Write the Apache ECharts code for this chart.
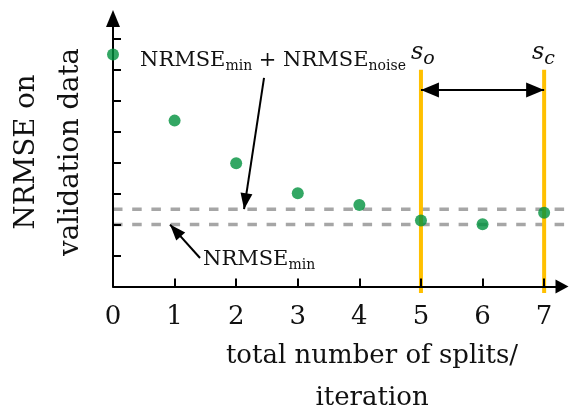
<!DOCTYPE html>
<html>
<head>
<meta charset="utf-8">
<script src="https://cdn.jsdelivr.net/npm/echarts@6/dist/echarts.min.js"></script>
<style>
  html, body { margin: 0; padding: 0; background: #fff; }
  #chart { width: 569px; height: 408px; }
</style>
</head>
<body>
<div id="chart"></div>
<script>
// Validation error per number of splits
const iterations = [0, 1, 2, 3, 4, 5, 6, 7];
const nrmseValues = [7.50, 5.36, 3.98, 3.01, 2.63, 2.13, 2.01, 2.38];
const nrmseMin = 2.0;
const nrmseMinPlusNoise = 2.5;
const splitOptimal = 5;   // s_o
const splitChosen = 7;    // s_c
const xTickValues = [0, 1, 2, 3, 4, 5, 6, 7];
const yTickValues = [1, 2, 3, 4, 5, 6, 7, 8];

const FONT = 'DejaVu Serif';
const TEXT_COLOR = '#111';
const chart = echarts.init(document.getElementById('chart'), null, { renderer: 'canvas' });

const X_MAX = 7.29, Y_MAX = 8.66;

// Text with sub-scripts: each piece is laid out after the previous one,
// using the canvas to measure its width.
const measureCtx = document.createElement('canvas').getContext('2d');
function textWidth(text, size, italic) {
  measureCtx.font = (italic ? 'italic ' : '') + size + 'px "' + FONT + '"';
  return measureCtx.measureText(text).width;
}
function formula(x, y, parts) {
  const out = [];
  let cx = x;
  parts.forEach(p => {
    out.push({
      type: 'text', x: cx, y: y + (p.dy || 0), z: 30, silent: true,
      style: {
        text: p.text, fontFamily: FONT, fontSize: p.size,
        fontStyle: p.italic ? 'italic' : 'normal',
        align: 'left', verticalAlign: 'middle', fill: TEXT_COLOR
      }
    });
    cx += textWidth(p.text, p.size, p.italic) + (p.gap || 0);
  });
  return out;
}

const option = {
  animation: false,
  backgroundColor: '#ffffff',
  grid: { left: 113, right: 7, top: 18.5, bottom: 121.5, containLabel: false },
  xAxis: {
    type: 'value', min: 0, max: X_MAX, z: 10,
    splitLine: { show: false },
    axisLine: {
      onZero: false,
      lineStyle: { color: '#000', width: 2 },
      symbol: ['none', 'triangle'], symbolSize: [14, 13]
    },
    axisTick: { inside: true, length: 8, lineStyle: { color: '#000', width: 2 }, customValues: xTickValues },
    axisLabel: { margin: 18, fontFamily: FONT, fontSize: 26, color: TEXT_COLOR, customValues: xTickValues }
  },
  yAxis: {
    type: 'value', min: 0, max: Y_MAX, z: 10,
    splitLine: { show: false },
    axisLine: {
      onZero: false,
      lineStyle: { color: '#000', width: 2 },
      symbol: ['none', 'triangle'], symbolSize: [14, 17]
    },
    axisTick: { inside: true, length: 8, lineStyle: { color: '#000', width: 2 }, customValues: yTickValues },
    axisLabel: { show: false }
  },
  series: [
    {
      name: 'min', type: 'line', clip: false, silent: true, symbol: 'none', z: 3,
      data: [[0, nrmseMin], [7.36, nrmseMin]],
      lineStyle: { color: '#A6A6A6', width: 3.5, type: [9.5, 9.7] }
    },
    {
      name: 'noise', type: 'line', clip: false, silent: true, symbol: 'none', z: 3,
      data: [[0, nrmseMinPlusNoise], [7.36, nrmseMinPlusNoise]],
      lineStyle: { color: '#A6A6A6', width: 3.5, type: [9.5, 9.7] }
    },
    {
      name: 'so', type: 'line', clip: false, silent: true, symbol: 'none', z: 4,
      data: [[splitOptimal, 7.0], [splitOptimal, -0.21]],
      lineStyle: { color: '#FFC000', width: 4 }
    },
    {
      name: 'sc', type: 'line', clip: false, silent: true, symbol: 'none', z: 4,
      data: [[splitChosen, 7.0], [splitChosen, -0.21]],
      lineStyle: { color: '#FFC000', width: 4 }
    },
    {
      name: 'nrmse', type: 'scatter', z: 20, clip: false,
      symbol: 'circle', symbolSize: 12,
      itemStyle: { color: '#00913D' },
      data: iterations.map((x, i) => [x, nrmseValues[i]])
    },
    {
      name: 'arrows', type: 'line', data: [], silent: true, z: 12,
      markLine: {
        silent: true, animation: false,
        label: { show: false },
        emphasis: { disabled: true },
        lineStyle: { color: '#000', width: 2, type: 'solid' },
        symbol: ['none', 'triangle'], symbolSize: [12, 16],
        symbolOffset: [[0, 0], [0, 8]],
        data: [
          [{ coord: [2.452, 6.74] }, { coord: [2.128, nrmseMinPlusNoise] }],
          [{ coord: [1.413, 0.92] }, { coord: [0.926, nrmseMin] }],
          [
            { coord: [splitOptimal, 6.35], symbol: 'triangle', symbolSize: [15, 18], symbolOffset: [0, 9] },
            { coord: [splitChosen, 6.35], symbol: 'triangle', symbolSize: [15, 18], symbolOffset: [0, 9] }
          ]
        ]
      }
    }
  ],
  graphic: [].concat(
    formula(140, 61, [
      { text: 'NRMSE', size: 21 },
      { text: 'min', size: 14, dy: 5.4 },
      { text: ' + NRMSE', size: 21 },
      { text: 'noise', size: 14, dy: 5.4 }
    ]),
    formula(203, 260, [
      { text: 'NRMSE', size: 21 },
      { text: 'min', size: 14, dy: 5.4 }
    ]),
    formula(411, 52.4, [
      { text: 's', size: 24, italic: true },
      { text: 'o', size: 19, italic: true, dy: 6.8 }
    ]),
    formula(532, 52.4, [
      { text: 's', size: 24, italic: true },
      { text: 'c', size: 19, italic: true, dy: 6.8 }
    ]),
    [
      {
        type: 'text', x: 49, y: 152, rotation: Math.PI / 2, z: 30, silent: true,
        style: {
          text: 'NRMSE on\nvalidation data',
          fontFamily: FONT, fontSize: 27.5, lineHeight: 44,
          align: 'center', verticalAlign: 'middle', fill: TEXT_COLOR
        }
      },
      {
        type: 'text', x: 372, y: 377, z: 30, silent: true,
        style: {
          text: 'total number of splits/\niteration',
          fontFamily: FONT, fontSize: 26, lineHeight: 42,
          align: 'center', verticalAlign: 'middle', fill: TEXT_COLOR
        }
      }
    ]
  )
};

chart.setOption(option);
</script>
</body>
</html>
